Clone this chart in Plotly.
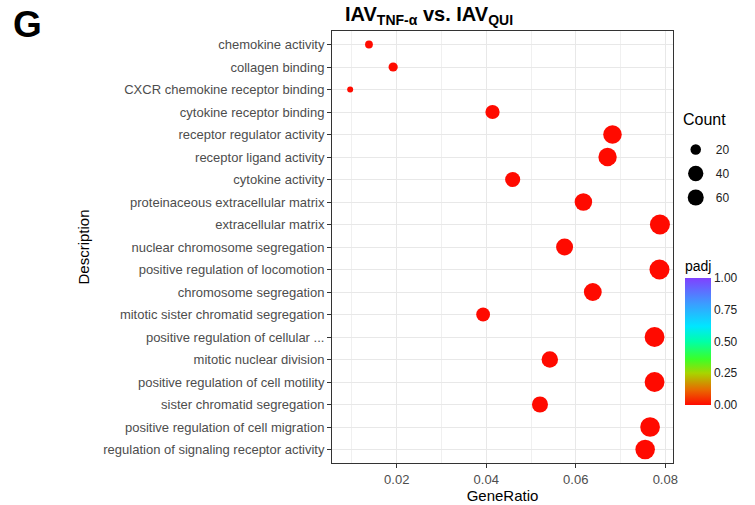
import plotly.graph_objects as go

descriptions = [
    "chemokine activity",
    "collagen binding",
    "CXCR chemokine receptor binding",
    "cytokine receptor binding",
    "receptor regulator activity",
    "receptor ligand activity",
    "cytokine activity",
    "proteinaceous extracellular matrix",
    "extracellular matrix",
    "nuclear chromosome segregation",
    "positive regulation of locomotion",
    "chromosome segregation",
    "mitotic sister chromatid segregation",
    "positive regulation of cellular ...",
    "mitotic nuclear division",
    "positive regulation of cell motility",
    "sister chromatid segregation",
    "positive regulation of cell migration",
    "regulation of signaling receptor activity",
]
gene_ratio = [0.0138, 0.0192, 0.0096, 0.0414, 0.0682, 0.0671, 0.0459, 0.0617, 0.0788,
              0.0575, 0.0787, 0.0638, 0.0393, 0.0776, 0.0542, 0.0776, 0.0520, 0.0766, 0.0755]
counts = [12, 16, 8, 35, 58, 57, 39, 52, 67, 49, 67, 54, 33, 66, 46, 66, 44, 65, 64]
padj = [0.001, 0.001, 0.002, 0.0, 0.0, 0.0, 0.0, 0.0, 0.0, 0.0, 0.0, 0.0, 0.0, 0.0, 0.0, 0.0, 0.0, 0.0, 0.0]
legend_counts = [20, 40, 60]
cbar_ticks = [0, 0.25, 0.5, 0.75, 1.0]
cbar_labels = ["0.00", "0.25", "0.50", "0.75", "1.00"]

c_min, c_max = min(counts), max(counts)
def diam(c):
    # ggplot-like area scaling: area linear in count between min and max diameter
    dmin, dmax = 6.0, 20.0
    return (dmin**2 + (dmax**2 - dmin**2) * (c - c_min) / (c_max - c_min)) ** 0.5

rainbow = [
    [0.0, "#FF0A00"], [0.12, "#E86A00"], [0.25, "#A8D400"], [0.36, "#3CFF28"],
    [0.5, "#00FFA8"], [0.62, "#00E6FF"], [0.8, "#3C9CFF"], [1.0, "#8040FF"],
]

fig = go.Figure()
fig.add_trace(go.Scatter(
    x=gene_ratio, y=descriptions, mode="markers",
    marker=dict(size=[diam(c) for c in counts], color=padj, cmin=0, cmax=1, opacity=1,
                colorscale=rainbow, line=dict(width=0),
                colorbar=dict(title=dict(text="padj", side="top", font=dict(size=14, color="#000")),
                              x=1.035, xanchor="left", y=(463 - 405) / 432, yanchor="bottom",
                              len=148, lenmode="pixels", thickness=26, outlinewidth=0,
                              ypad=0, xpad=0,
                              tickvals=cbar_ticks, ticktext=cbar_labels, ticks="",
                              tickfont=dict(size=12, color="#222"))),
    showlegend=False, hoverinfo="x+y",
))
for c in legend_counts:
    fig.add_trace(go.Scatter(
        x=[None], y=[None], mode="markers", name=str(c), legendgroup=str(c),
        marker=dict(size=diam(c), color="black"), showlegend=True,
    ))

font_family = "Liberation Sans, Arial, sans-serif"
fig.update_layout(
    width=755, height=505,
    margin=dict(l=332, r=82, t=31, b=42, autoexpand=False),
    paper_bgcolor="white", plot_bgcolor="white",
    font=dict(family=font_family, size=13, color="#4D4D4D"),
    xaxis=dict(range=[0.00554, 0.08172], tickvals=[0.02, 0.04, 0.06, 0.08],
               ticktext=["0.02", "0.04", "0.06", "0.08"],
               showgrid=True, gridcolor="#E8E8E8", gridwidth=1.3,
               minor=dict(dtick=0.01, tick0=0, showgrid=True, gridcolor="#F0F0F0", gridwidth=0.8),
               ticks="outside", ticklen=4, tickcolor="#333", tickwidth=1,
               showline=True, linecolor="#333", linewidth=1, mirror=True, zeroline=False,
               tickfont=dict(size=13, color="#4D4D4D"),
               title=dict(text="GeneRatio", font=dict(size=15, color="#000"), standoff=0)),
    yaxis=dict(categoryorder="array", categoryarray=descriptions,
               range=[18.6, -0.6], showgrid=True, gridcolor="#E8E8E8", gridwidth=1.3,
               ticks="outside", ticklen=4, tickcolor="#333", tickwidth=1,
               showline=True, linecolor="#333", linewidth=1, mirror=True, zeroline=False,
               tickfont=dict(size=13, color="#4D4D4D"),
               title=dict(text="Description", font=dict(size=15, color="#000"), standoff=10)),
    legend=dict(x=1.008, xanchor="left", y=(463 - 135) / 432, yanchor="top",
                itemsizing="trace", font=dict(size=12, color="#222"),
                bgcolor="rgba(0,0,0,0)", tracegroupgap=5),
    annotations=[
        dict(text="<b>IAV<sub><span style='font-size:14px'>TNF-α</span></sub> vs. IAV<sub><span style='font-size:14px'>QUI</span></sub></b>",
             xref="paper", yref="paper",
             x=0.284, y=1.0, xanchor="center", yanchor="bottom", yshift=1, showarrow=False,
             font=dict(size=20, color="#000")),
        dict(text="<b>G</b>", xref="paper", yref="paper", x=-0.94, y=1.066,
             xanchor="left", yanchor="top", showarrow=False,
             font=dict(size=37, color="#000")),
        dict(text="Count", xref="paper", yref="paper", x=(681 - 332) / 341, y=(463 - 120) / 432,
             xanchor="left", yanchor="middle", showarrow=False,
             font=dict(size=16, color="#000")),
    ],
)
fig.write_html("out.html", post_script="document.body.style.margin='0';",
               config={"displayModeBar": False})
